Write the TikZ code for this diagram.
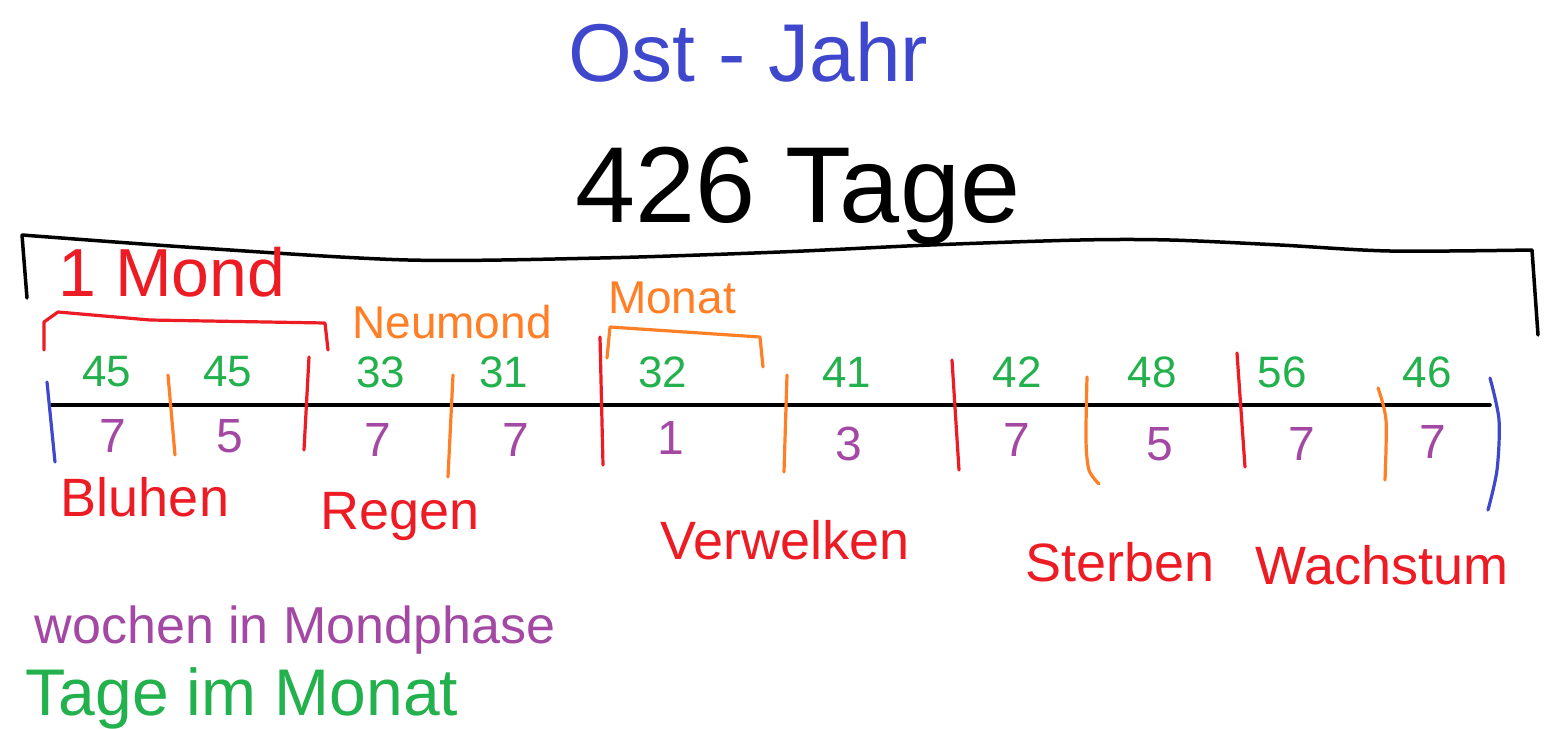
\documentclass[tikz,border=0pt]{standalone}
\usepackage{fontspec}
\setmainfont{Liberation Sans}
\usepackage{xcolor}
\usepackage{tikz}
\definecolor{ostblue}{HTML}{3F48CC}
\definecolor{ostred}{HTML}{ED1C24}
\definecolor{ostorange}{HTML}{FF7F27}
\definecolor{ostgreen}{HTML}{22B14C}
\definecolor{ostpurple}{HTML}{A349A4}

\begin{document}
\begin{tikzpicture}[
  x=0.5pt,y=-0.5pt,
  txt/.style={inner sep=0pt,anchor=center},
  headline/.style={txt,text=ostblue,font=\fontsize{41}{45}\selectfont},
  total/.style={txt,text=black,font=\fontsize{54}{58}\selectfont},
  days/.style={txt,text=ostgreen,font=\fontsize{22}{24}\selectfont},
  weeks/.style={txt,text=ostpurple,font=\fontsize{24}{26}\selectfont},
  phase/.style={txt,text=ostred,font=\fontsize{27}{30}\selectfont},
  moonlbl/.style={txt,text=ostred,font=\fontsize{34}{38}\selectfont},
  monthlbl/.style={txt,text=ostorange,font=\fontsize{23}{26}\selectfont},
  frame/.style={draw=black,line width=1.75pt,line cap=round,line join=round},
  moonsep/.style={draw=ostred,line width=1.6pt,line cap=round,line join=round},
  monthsep/.style={draw=ostorange,line width=1.6pt,line cap=round,line join=round},
  endsep/.style={draw=ostblue,line width=1.6pt,line cap=round}
]
\useasboundingbox[fill=white] (0,0) rectangle (1560,729);

% titles
\node[headline] (year) at (748,52) {Ost - Jahr};
\node[total] (total) at (798,196) {426 Tage};

% bracket over the whole year
\draw[frame] (27,298) -- (22,235) plot[smooth] coordinates {(22,235) (200,248) (408,260) (600,258) (780,252) (930,245) (1080,240) (1170,240) (1280,245) (1390,251) (1532,250)} -- (1538,335);

% time axis
\coordinate (axisL) at (50,405);
\coordinate (axisR) at (1490,405);
\draw[frame] (axisL) -- (axisR);

% year ends
\draw[endsep] (47,382) -- (55,462);
\draw[endsep] plot[smooth] coordinates {(1490,378) (1499,420) (1497,470) (1488,510)};

% moon borders
\draw[moonsep] (309,357) -- (304,450);
\draw[moonsep] (600,337) -- (603,465);
\draw[moonsep] (952,360) -- (959,470);
\draw[moonsep] (1237,353) -- (1245,467);

% month borders
\draw[monthsep] (168,375) -- (175,455);
\draw[monthsep] (453,375) -- (448,477);
\draw[monthsep] (787,375) -- (784,472);
\draw[monthsep] plot[smooth] coordinates {(1087,377) (1086,440) (1089,470) (1099,484)};
\draw[monthsep] plot[smooth] coordinates {(1378,388) (1386,420) (1385,480)};

% one moon / one month
\draw[moonsep] (44,350) -- (44,322) -- (58,312) -- (150,320) -- (325,323) -- (328,350);
\node[moonlbl] (mond) at (172,272) {1 Mond};
\node[monthlbl] (neumond) at (452,322) {Neumond};
\draw[monthsep] (607,358) -- (610,327) -- (700,333) -- (760,337) -- (763,367);
\node[monthlbl] (monat) at (672,298) {Monat};

% days per month
\node[days] (d1) at (107,372) {45};
\node[days] (d2) at (228,372) {45};
\node[days] (d3) at (381,372) {33};
\node[days] (d4) at (504,372) {31};
\node[days] (d5) at (663,372) {32};
\node[days] (d6) at (847,372) {41};
\node[days] (d7) at (1017,372) {42};
\node[days] (d8) at (1152,372) {48};
\node[days] (d9) at (1282,372) {56};
\node[days] (d10) at (1427,372) {46};

% weeks per moon phase
\node[weeks] (w1) at (113,436) {7};
\node[weeks] (w2) at (230,436) {5};
\node[weeks] (w3) at (378,440) {7};
\node[weeks] (w4) at (516,440) {7};
\node[weeks] (w5) at (671,438) {1};
\node[weeks] (w6) at (849,444) {3};
\node[weeks] (w7) at (1017,440) {7};
\node[weeks] (w8) at (1160,444) {5};
\node[weeks] (w9) at (1302,444) {7};
\node[weeks] (w10) at (1433,442) {7};

% seasons
\node[phase] (bluehen) at (145,497) {Bluhen};
\node[phase] (regen) at (400,517) {Regen};
\node[phase] (verwelken) at (785,540) {Verwelken};
\node[phase] (sterben) at (1120,562) {Sterben};
\node[phase] (wachstum) at (1382,565) {Wachstum};

% legend
\node[txt,text=ostpurple,font=\fontsize{26}{30}\selectfont] (legweeks) at (295,630) {wochen in Mondphase};
\node[txt,text=ostgreen,font=\fontsize{33}{38}\selectfont] (legdays) at (242,698) {Tage im Monat};
\end{tikzpicture}
\end{document}
